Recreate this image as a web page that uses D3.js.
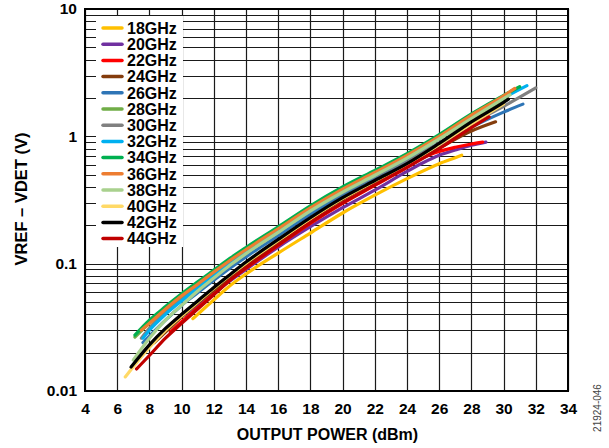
<!DOCTYPE html>
<html><head><meta charset="utf-8">
<script src="https://cdn.jsdelivr.net/npm/d3@7"></script>
<style>
body{margin:0;background:#fff}
svg{display:block}
text{font-family:"Liberation Sans",Arial,Helvetica,sans-serif}
</style>
</head><body>
<svg id="chart" width="609" height="448"></svg>
<script>
// ---- data ----
const categories = ["18GHz","20GHz","22GHz","24GHz","26GHz","28GHz","30GHz","32GHz","34GHz","36GHz","38GHz","40GHz","42GHz","44GHz"];
const colors = ["#FFC000","#7030A0","#FF0000","#843C0C","#2E75B6","#70AD47","#808080","#00B0F0","#00B050","#ED7D31","#A9D18E","#FFD966","#000000","#C00000"];

const power18 = [10.7,11,12,13,14,16,18,20,22,24,26,27,27.4];
const vdet18  = [0.037,0.040,0.052,0.067,0.083,0.121,0.174,0.25,0.345,0.465,0.61,0.68,0.71];
const power20 = [10.3,11,12,13,14,16,18,20,22,24,25,26,27,28,28.9];
const vdet20  = [0.038,0.046,0.058,0.073,0.09,0.135,0.195,0.275,0.378,0.53,0.62,0.71,0.78,0.85,0.9];
const power22 = [9.3,10,11,12,13,14,16,18,20,22,24,25,26,27,28,28.7];
const vdet22  = [0.029,0.035,0.045,0.058,0.074,0.092,0.139,0.207,0.297,0.412,0.57,0.68,0.76,0.82,0.87,0.9];
const power24 = [8.3,9,10,11,12,13,14,16,18,20,22,24,26,28,29.5];
const vdet24  = [0.024,0.029,0.038,0.049,0.062,0.078,0.097,0.147,0.222,0.32,0.44,0.6,0.81,1.1,1.3];
const power26 = [7.6,8,9,10,11,12,13,14,16,18,20,22,24,26,28,30,31.2];
const vdet26  = [0.024,0.027,0.036,0.047,0.059,0.074,0.092,0.113,0.166,0.245,0.345,0.465,0.625,0.85,1.18,1.55,1.79];
const power28 = [7.1,8,9,10,11,12,13,14,16,18,20,22,24,26,28,30];
const vdet28  = [0.0265,0.034,0.043,0.054,0.067,0.083,0.102,0.124,0.18,0.262,0.368,0.5,0.68,0.96,1.38,1.95];
const power30 = [7.5,8,9,10,11,12,13,14,16,18,20,22,24,26,28,30,32];
const vdet30  = [0.026,0.031,0.041,0.052,0.065,0.081,0.1,0.121,0.177,0.258,0.36,0.485,0.65,0.89,1.26,1.72,2.4];
const power32 = [7.6,8,9,10,11,12,13,14,16,18,20,22,24,26,28,30,31.45];
const vdet32  = [0.026,0.03,0.04,0.051,0.064,0.08,0.099,0.121,0.177,0.26,0.365,0.495,0.675,0.96,1.41,2.0,2.5];
const power34 = [7.1,8,9,10,11,12,13,14,16,18,20,22,24,26,28,30,31];
const vdet34  = [0.0275,0.036,0.046,0.058,0.072,0.089,0.11,0.134,0.195,0.285,0.4,0.54,0.73,1.03,1.5,2.1,2.45];
const power36 = [7.5,8,9,10,11,12,13,14,16,18,20,22,24,26,28,30,30.7];
const vdet36  = [0.03,0.034,0.044,0.056,0.069,0.086,0.106,0.129,0.188,0.274,0.385,0.52,0.71,1.0,1.47,2.08,2.38];
const power38 = [7,8,9,10,11,12,13,14,16,18,20,22,24,26,28,30,30.4];
const vdet38  = [0.0175,0.026,0.036,0.047,0.061,0.077,0.097,0.12,0.176,0.26,0.365,0.495,0.675,0.955,1.38,1.98,2.12];
const power40 = [6.5,7,8,9,10,11,12,13,14,16,18,20,22,24,26,28,30];
const vdet40  = [0.0129,0.0155,0.022,0.03,0.039,0.05,0.064,0.081,0.101,0.152,0.225,0.325,0.445,0.6,0.86,1.25,1.8];
const power42 = [6.86,8,9,10,11,12,13,14,16,18,20,22,24,26,28,30,30.3];
const vdet42  = [0.0154,0.023,0.031,0.04,0.051,0.065,0.082,0.103,0.155,0.23,0.33,0.45,0.61,0.88,1.3,1.85,1.96];
const power44 = [7.2,8,9,10,11,12,13,14,16,18,20,22,24,26,28,29.1];
const vdet44  = [0.0149,0.019,0.026,0.034,0.044,0.057,0.074,0.093,0.14,0.21,0.3,0.415,0.57,0.8,1.17,1.42];

const xTicks = [4,6,8,10,12,14,16,18,20,22,24,26,28,30,32,34];
const yTicks = [0.01,0.1,1,10];
const yTickLabels = ["0.01","0.1","1","10"];

const powers = [power18,power20,power22,power24,power26,power28,power30,power32,power34,power36,power38,power40,power42,power44];
const values = [vdet18,vdet20,vdet22,vdet24,vdet26,vdet28,vdet30,vdet32,vdet34,vdet36,vdet38,vdet40,vdet42,vdet44];

// ---- layout ----
const L = 85, R = 568, T = 9, B = 391;
const svg = d3.select("#chart");
const x = d3.scaleLinear().domain([4,34]).range([L,R]);
const y = d3.scaleLog().domain([0.01,10]).range([B,T]);

// grid
const g = svg.append("g");
const minor = [];
[0.01,0.1,1].forEach(d => { for (let k=1;k<10;k++) minor.push(d*k); });
g.selectAll("line.h").data(minor).enter().append("line")
  .attr("x1",L).attr("x2",R).attr("y1",d=>Math.round(y(d))+0.5).attr("y2",d=>Math.round(y(d))+0.5)
  .attr("stroke","#1a1a1a").attr("stroke-width",1.2);
g.selectAll("line.v").data(xTicks).enter().append("line")
  .attr("x1",d=>Math.round(x(d))+0.5).attr("x2",d=>Math.round(x(d))+0.5).attr("y1",T).attr("y2",B)
  .attr("stroke","#1a1a1a").attr("stroke-width",1.2);

// axes labels via d3 axes (no domain / tick lines)
const xAxis = svg.append("g").attr("transform",`translate(0,${B})`)
  .call(d3.axisBottom(x).tickValues(xTicks).tickSize(0).tickPadding(12).tickFormat(d3.format("d")));
const yAxis = svg.append("g").attr("transform",`translate(${L},0)`)
  .call(d3.axisLeft(y).tickValues(yTicks).tickSize(0).tickPadding(8).tickFormat((d,i)=>yTickLabels[i]));
[xAxis,yAxis].forEach(a=>{
  a.select(".domain").remove();
  a.selectAll("text").attr("font-size",15.5).attr("font-weight","bold").attr("fill","#000")
    .attr("font-family","'Liberation Sans',Arial,sans-serif");
});

// curves
const line = d3.line().x(d=>x(d[0])).y(d=>y(d[1])).curve(d3.curveMonotoneX);
const plot = svg.append("g");
categories.forEach((c,i)=>{
  const pts = powers[i].map((p,j)=>[p,values[i][j]]);
  plot.append("path").datum(pts).attr("d",line)
    .attr("fill","none").attr("stroke",colors[i]).attr("stroke-width",3.2)
    .attr("stroke-linecap","round").attr("stroke-linejoin","round");
});

// frame
svg.append("rect").attr("x",L).attr("y",T).attr("width",R-L).attr("height",B-T)
  .attr("fill","none").attr("stroke","#000").attr("stroke-width",2);

// legend
const lg = svg.append("g");
lg.append("rect").attr("x",96).attr("y",16).attr("width",87).attr("height",231).attr("fill","#fff");
categories.forEach((c,i)=>{
  const cy = 28 + i*16.2;
  lg.append("line").attr("x1",103).attr("x2",122).attr("y1",cy).attr("y2",cy)
    .attr("stroke",colors[i]).attr("stroke-width",3.5).attr("stroke-linecap","round");
  lg.append("text").attr("x",127).attr("y",cy+5.8).text(c)
    .attr("font-size",16).attr("font-weight","bold").attr("fill","#000");
});

// axis titles
svg.append("text").attr("x",(L+R)/2 + 1).attr("y",440).attr("text-anchor","middle")
  .attr("font-size",16).attr("font-weight","bold").text("OUTPUT POWER (dBm)");
svg.append("text").attr("transform","translate(27,199) rotate(-90)").attr("text-anchor","middle")
  .attr("font-size",16.5).attr("font-weight","bold").text("VREF – VDET (V)");
svg.append("text").attr("transform","translate(601,408) rotate(-90)").attr("text-anchor","middle")
  .attr("font-size",10).attr("fill","#444").text("21924-046");
</script>
</body></html>
